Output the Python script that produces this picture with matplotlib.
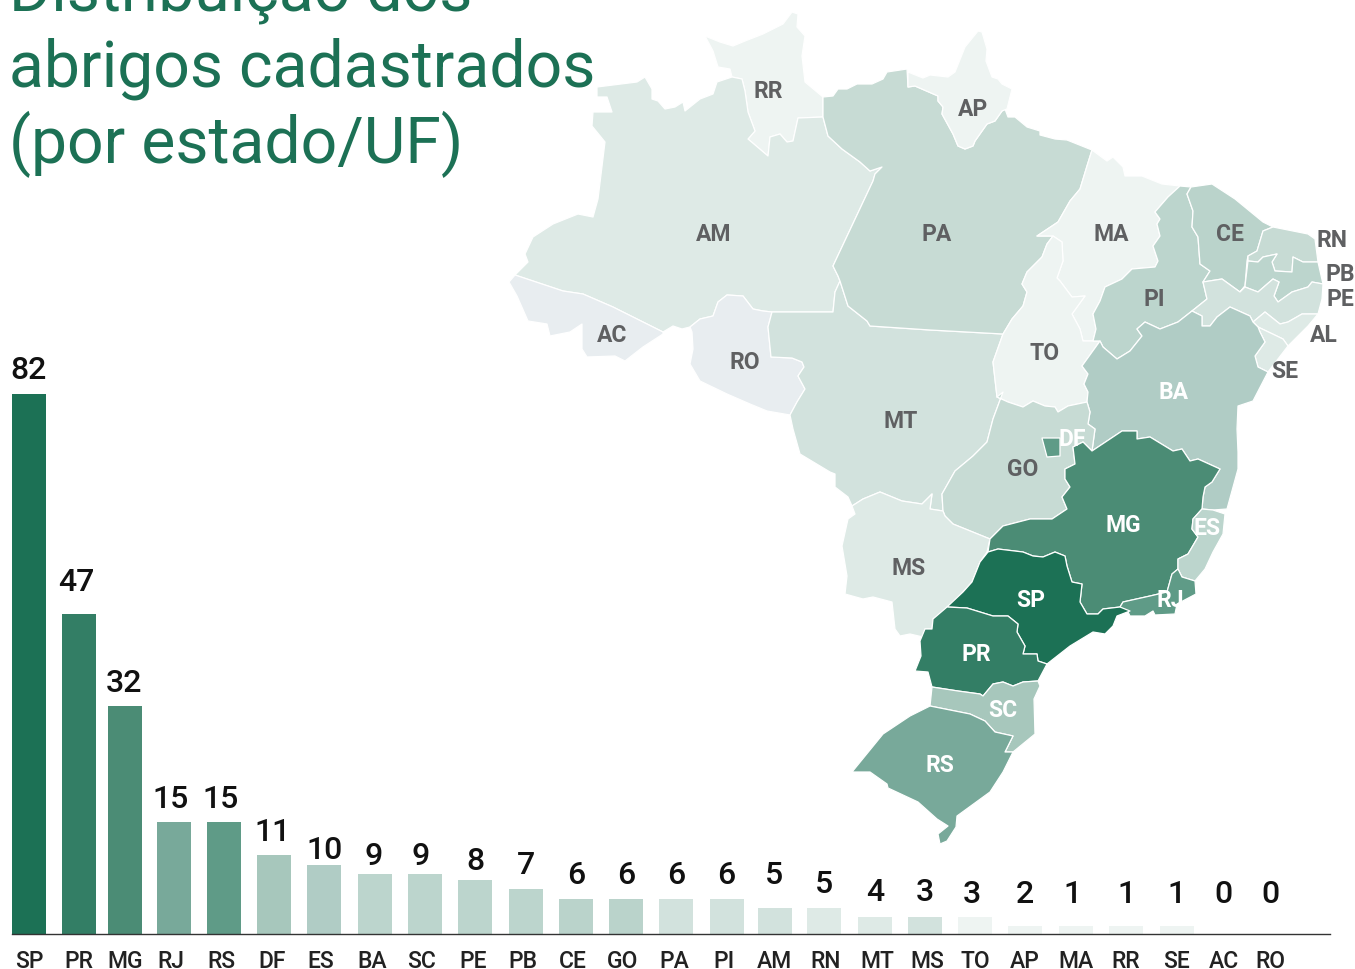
import matplotlib.pyplot as plt
from matplotlib.patches import Polygon

plt.rcParams['font.family'] = ['Roboto', 'DejaVu Sans']

GREEN = '#1c7155'
GREY = '#5f6062'

# bar chart
ufs = ['SP', 'PR', 'MG', 'RJ', 'RS', 'DF', 'ES', 'BA', 'SC', 'PE', 'PB', 'CE', 'GO',
       'PA', 'PI', 'AM', 'RN', 'MT', 'MS', 'TO', 'AP', 'MA', 'RR', 'SE', 'AC', 'RO']
values = [82, 47, 32, 15, 15, 11, 10, 9, 9, 8, 7, 6, 6, 6, 6, 5, 5, 4, 3, 3, 2, 1, 1, 1, 0, 0]
# the original bars are not quite proportional, so heights are read off the picture
bar_heights = [540, 320, 228, 112, 112, 79, 69, 60, 60, 54, 45, 35, 35, 35, 35, 26, 26,
               17, 17, 17, 8, 8, 8, 8, 0, 0]
bar_x = [29, 79, 125, 174, 224, 274, 324, 375, 425, 475, 526, 576, 626, 676, 727, 775, 824,
         875, 925, 975, 1025, 1076, 1126, 1177, 1224, 1270]
bar_colors = ['#1c7155', '#337e65', '#4b8c75', '#78a99a', '#5f9b87', '#a7c7bc', '#b0ccc5',
              '#bcd5cd', '#bcd5cd', '#bcd5cd', '#bcd5cd', '#bad3cb', '#bad3cb', '#d2e2dd',
              '#d2e2dd', '#d2e2dd', '#deeae6', '#deeae6', '#d2e2dd', '#eef4f2', '#eef4f2',
              '#eef4f2', '#eef4f2', '#eef4f2', '#ffffff', '#ffffff']
value_x = [29, 76, 124, 171, 221, 273, 325, 374, 421, 475, 526, 576, 626, 676, 726, 774, 824,
           875, 925, 972, 1025, 1072, 1126, 1176, 1223, 1270]
value_y = [567, 355, 254, 138, 138, 105, 87, 81, 81, 76, 72, 62, 62, 62, 62, 62, 53,
           45, 45, 43, 43, 43, 43, 43, 43, 43]
tick_x = [29, 79, 125, 171, 221, 272, 321, 372, 422, 473, 523, 573, 623, 674, 724, 774, 826,
          877, 927, 975, 1025, 1076, 1126, 1177, 1224, 1270]

# map outlines
states = {
    'RR': [(705, 37), (720, 43), (733, 47), (745, 42), (763, 35), (783, 25), (792, 13), (798, 15),
           (797, 28), (805, 37), (802, 57), (805, 83), (823, 98), (823, 118), (798, 119), (793, 142),
           (787, 143), (780, 135), (770, 138), (768, 157), (748, 140), (755, 132), (748, 113),
           (745, 92), (742, 80), (732, 78), (730, 70), (718, 68), (713, 52)],
    'AM': [(597, 88), (637, 83), (645, 78), (652, 90), (652, 100), (658, 102), (665, 110), (675, 108),
           (683, 103), (685, 112), (700, 100), (713, 95), (717, 83), (732, 78), (742, 80), (745, 92),
           (748, 113), (755, 132), (748, 140), (768, 157),
           (770, 138), (780, 135), (787, 143), (793, 142), (798, 119), (823, 118), (828, 137),
           (842, 150), (860, 163), (870, 172), (882, 168), (875, 175), (873, 182), (833, 267),
           (838, 277), (840, 282), (835, 293), (833, 313), (772, 313), (763, 312), (753, 310),
           (743, 297), (727, 296), (718, 303), (713, 317), (700, 320), (690, 328), (682, 330),
           (673, 327), (663, 333), (613, 308), (583, 295), (563, 292), (515, 276), (528, 263),
           (525, 255), (533, 238), (553, 225), (578, 215), (593, 218), (598, 200), (605, 143),
           (592, 127), (593, 113), (612, 113), (607, 98), (597, 98)],
    'AC': [(515, 276), (563, 292), (583, 295), (613, 308), (663, 333), (663, 335), (643, 348),
           (625, 362), (615, 357), (587, 358), (582, 350), (582, 325), (570, 333), (550, 337),
           (547, 325), (528, 322), (517, 297), (509, 283)],
    'RO': [(772, 313), (763, 312), (753, 310), (743, 297), (727, 296), (718, 303), (713, 317),
           (700, 320), (690, 328), (692, 333), (693, 350), (690, 365), (700, 382), (727, 395),
           (750, 405), (767, 412), (790, 416), (797, 403), (805, 390), (798, 377), (804, 368),
           (802, 363), (792, 359), (771, 358), (768, 328)],
    'MT': [(772, 313), (833, 313), (835, 293), (840, 282), (848, 307), (867, 322), (870, 327),
           (930, 331), (1003, 335), (993, 363), (997, 398), (1003, 393), (993, 420), (987, 443),
           (973, 457), (955, 472), (942, 495), (943, 512), (930, 510), (932, 495), (922, 505),
           (902, 502), (880, 493), (863, 500), (852, 507), (848, 498), (835, 488), (835, 475),
           (830, 473), (800, 455), (793, 430), (790, 416), (797, 403), (805, 390), (798, 377),
           (804, 368), (802, 363), (792, 359), (771, 358), (768, 328)],
    'PA': [(823, 98), (833, 97), (838, 90), (847, 90), (857, 85), (872, 85), (883, 80), (887, 73),
           (907, 70), (908, 88), (915, 87), (938, 97), (938, 102), (943, 108), (942, 115), (953, 135),
           (958, 147), (965, 150), (973, 147), (975, 142), (987, 125), (995, 122), (1002, 112),
           (1005, 110), (1008, 118), (1015, 118), (1027, 128), (1040, 132), (1040, 136), (1055, 140),
           (1067, 141), (1092, 151), (1087, 167), (1080, 190), (1070, 202), (1058, 223),
           (1037, 237), (1053, 237), (1047, 245), (1042, 258), (1027, 273), (1022, 285), (1027, 293),
           (1023, 307), (1012, 320), (1003, 335), (930, 331), (870, 327), (867, 322), (848, 307),
           (840, 282), (838, 277), (833, 267), (873, 182), (875, 175), (882, 168), (870, 172),
           (860, 163), (842, 150), (828, 137), (823, 118)],
    'AP': [(908, 73), (923, 79), (930, 76), (948, 78), (955, 73), (965, 48), (978, 32), (982, 33),
           (987, 50), (986, 62), (992, 78), (998, 80), (1002, 85), (1012, 90), (1007, 110), (1002, 112),
           (995, 122), (987, 125), (975, 142), (973, 147), (965, 150), (958, 147), (953, 135),
           (942, 115), (943, 108), (938, 102), (938, 97), (915, 87), (908, 88)],
    'MA': [(1092, 151), (1107, 162), (1113, 158), (1123, 168), (1125, 177), (1142, 177), (1162, 185),
           (1180, 187), (1168, 198), (1155, 213), (1160, 220), (1157, 225), (1160, 237), (1153, 247),
           (1158, 262), (1155, 268), (1132, 270), (1122, 280), (1105, 288), (1100, 302), (1093, 315),
           (1096, 330), (1093, 342), (1083, 342), (1080, 330), (1072, 315), (1085, 297), (1072, 298),
           (1060, 282), (1057, 279), (1063, 262), (1062, 243), (1053, 237), (1037, 237), (1058, 223),
           (1070, 202), (1080, 190), (1087, 167)],
    'TO': [(1053, 237), (1062, 243), (1063, 262), (1057, 279), (1060, 282), (1072, 298), (1085, 297),
           (1072, 315), (1080, 330), (1083, 342), (1100, 342), (1082, 367), (1088, 375), (1084, 385),
           (1088, 393), (1087, 403), (1068, 407), (1058, 413), (1055, 408), (1045, 407), (1033, 402),
           (1023, 408), (1008, 403), (997, 398), (993, 363), (1003, 335), (1012, 320), (1023, 307),
           (1027, 293), (1022, 285), (1027, 273), (1042, 258), (1047, 245)],
    'PI': [(1180, 187), (1191, 188), (1187, 195), (1193, 212), (1192, 228), (1198, 238), (1200, 265),
           (1210, 272), (1203, 283), (1207, 300), (1192, 312), (1178, 323), (1160, 330), (1145, 323),
           (1137, 330), (1142, 337), (1130, 352), (1117, 360), (1103, 348), (1100, 342), (1093, 342),
           (1096, 330), (1093, 315), (1100, 302), (1105, 288), (1122, 280), (1132, 270), (1155, 268),
           (1158, 262), (1153, 247), (1160, 237), (1157, 225), (1160, 220), (1155, 213), (1168, 198)],
    'CE': [(1191, 188), (1212, 185), (1235, 200), (1263, 223), (1273, 228), (1263, 232), (1257, 252),
           (1248, 257), (1247, 262), (1245, 287), (1240, 293), (1222, 280), (1203, 283), (1210, 272),
           (1200, 265), (1198, 238), (1192, 228), (1193, 212), (1187, 195)],
    'RN': [(1273, 228), (1308, 235), (1315, 240), (1318, 263), (1303, 263), (1293, 258), (1292, 273),
           (1275, 272), (1272, 263), (1277, 255), (1263, 258), (1258, 263), (1248, 262), (1248, 257),
           (1257, 252), (1263, 232)],
    'PB': [(1248, 262), (1258, 263), (1263, 258), (1277, 255), (1272, 263), (1275, 272), (1292, 273),
           (1293, 258), (1303, 263), (1318, 263), (1323, 285), (1312, 283), (1308, 288), (1292, 293),
           (1278, 303), (1274, 297), (1279, 283), (1273, 280), (1258, 293), (1245, 288), (1240, 293),
           (1245, 287)],
    'PE': [(1203, 283), (1222, 280), (1240, 293), (1245, 288), (1258, 293), (1273, 280), (1279, 283),
           (1274, 297), (1278, 303), (1292, 293), (1308, 288), (1312, 283), (1323, 285), (1322, 300),
           (1318, 315), (1302, 315), (1288, 323), (1280, 325), (1265, 313), (1253, 323), (1250, 317),
           (1230, 308), (1217, 318), (1210, 327), (1202, 327), (1202, 317), (1192, 312), (1207, 300)],
    'AL': [(1253, 323), (1265, 313), (1280, 325), (1288, 323), (1302, 315), (1318, 315), (1308, 327),
           (1288, 347), (1283, 340), (1258, 328)],
    'SE': [(1258, 328), (1283, 340), (1288, 347), (1268, 373), (1258, 368), (1255, 357), (1265, 343),
           (1260, 333)],
    'BA': [(1100, 342), (1103, 348), (1117, 360), (1130, 352), (1142, 337), (1137, 330), (1145, 323),
           (1160, 330), (1178, 323), (1192, 312), (1202, 317), (1202, 327), (1210, 327), (1217, 318),
           (1230, 308), (1250, 317), (1253, 323), (1258, 328), (1260, 333), (1265, 343), (1255, 357),
           (1258, 368), (1268, 373), (1253, 402), (1238, 407), (1237, 430), (1238, 453), (1238, 470),
           (1227, 510), (1213, 511), (1202, 510), (1203, 498), (1205, 488), (1212, 483), (1220, 470),
           (1198, 460), (1190, 462), (1182, 450), (1173, 452), (1150, 438), (1137, 440), (1137, 432),
           (1122, 432), (1092, 452), (1095, 430), (1088, 425), (1090, 413), (1087, 403), (1088, 393),
           (1084, 385), (1088, 375), (1082, 367)],
    'GO': [(997, 398), (1008, 403), (1023, 408), (1033, 402), (1045, 407), (1055, 408), (1058, 413),
           (1068, 407), (1087, 403), (1090, 413), (1088, 425), (1095, 430), (1092, 452), (1083, 443),
           (1073, 448), (1075, 465), (1065, 470), (1065, 480), (1070, 488), (1062, 498), (1067, 510),
           (1052, 520), (1030, 520), (1003, 527), (990, 540), (953, 525), (945, 517), (943, 512),
           (942, 495), (955, 472), (973, 457), (987, 443), (993, 420), (1003, 393)],
    'MS': [(852, 507), (863, 500), (880, 493), (902, 502), (922, 505), (932, 495), (930, 510),
           (943, 512), (945, 517), (953, 525), (990, 540), (987, 553), (980, 563), (972, 583),
           (963, 593), (950, 607), (933, 620), (932, 630), (925, 630), (923, 638), (910, 635),
           (900, 637), (895, 630), (892, 603), (873, 598), (863, 600), (845, 595), (847, 577),
           (842, 547), (848, 520), (855, 515)],
    'MG': [(1092, 452), (1122, 432), (1137, 432), (1137, 440), (1150, 438), (1173, 452), (1182, 450),
           (1190, 462), (1198, 460), (1220, 470), (1212, 483), (1205, 488), (1203, 498), (1202, 510),
           (1193, 520), (1192, 530), (1198, 538), (1188, 555), (1178, 560), (1178, 570), (1172, 575),
           (1167, 593), (1150, 597), (1123, 603), (1120, 608), (1103, 610), (1098, 615), (1087, 615),
           (1080, 603), (1082, 585), (1072, 583), (1067, 567), (1065, 557), (1055, 553), (1043, 558),
           (1033, 557), (1023, 553), (998, 550), (988, 553), (990, 540), (1003, 527), (1030, 520),
           (1052, 520), (1067, 510), (1062, 498), (1070, 488), (1065, 480), (1065, 470), (1075, 465),
           (1073, 448), (1083, 443)],
    'ES': [(1202, 510), (1213, 511), (1225, 515), (1223, 535), (1213, 553), (1205, 570), (1195, 582),
           (1182, 578), (1178, 570), (1178, 560), (1188, 555), (1198, 538), (1192, 530), (1193, 520)],
    'RJ': [(1178, 570), (1182, 578), (1195, 582), (1196, 595), (1177, 605), (1175, 615), (1155, 616),
           (1153, 612), (1145, 617), (1130, 617), (1128, 613), (1120, 608), (1123, 603), (1150, 597),
           (1167, 593), (1172, 575)],
    'SP': [(988, 553), (998, 550), (1023, 553), (1033, 557), (1043, 558), (1055, 553), (1065, 557),
           (1067, 567), (1072, 583), (1082, 585), (1080, 603), (1087, 615), (1098, 615), (1103, 610),
           (1120, 608), (1130, 612), (1117, 617), (1113, 627), (1105, 635), (1093, 633), (1070, 647),
           (1047, 665), (1038, 662), (1037, 655), (1023, 655), (1025, 647), (1017, 633), (1018, 625),
           (1008, 617), (993, 617), (967, 609), (947, 608), (963, 593), (972, 583), (980, 563)],
    'PR': [(947, 608), (967, 609), (993, 617), (1008, 617), (1018, 625), (1017, 633), (1025, 647),
           (1023, 655), (1037, 655), (1038, 662), (1047, 665), (1038, 682), (1023, 683), (1013, 687),
           (1003, 683), (993, 685), (983, 697), (980, 695), (958, 692), (932, 688), (928, 673),
           (915, 672), (921, 657), (920, 642), (925, 630), (932, 630), (933, 620)],
    'SC': [(932, 688), (958, 692), (980, 695), (983, 697), (993, 685), (1003, 683), (1013, 687),
           (1023, 683), (1038, 682), (1040, 687), (1034, 700), (1035, 735), (1013, 753), (1005, 753),
           (1013, 737), (995, 733), (985, 722), (970, 715), (930, 707)],
    'RS': [(930, 707), (970, 715), (985, 722), (995, 733), (1013, 737), (1005, 753), (1013, 753),
           (1003, 773), (990, 793), (957, 817), (956, 828), (947, 842), (940, 845), (938, 835),
           (948, 827), (937, 820), (918, 803), (888, 789), (887, 785), (870, 773), (852, 773),
           (883, 735), (910, 717)],
    'DF': [(1042, 439), (1060, 439), (1060, 457), (1047, 458)],
}
state_colors = {'RR': '#eef4f2', 'AM': '#deeae6', 'AC': '#e8edf0', 'RO': '#e8edf0', 'MT': '#d2e2dd',
                'PA': '#c7dbd4', 'AP': '#eef4f2', 'MA': '#eef4f2', 'TO': '#eef4f2', 'PI': '#bcd5cd',
                'CE': '#bad3cb', 'RN': '#c7dbd4', 'PB': '#bcd5cd', 'PE': '#d2e2dd', 'AL': '#deeae6',
                'SE': '#deeae6', 'BA': '#b0ccc5', 'GO': '#c7dbd4', 'MS': '#deeae6', 'MG': '#4b8c75',
                'ES': '#bcd5cd', 'RJ': '#5f9b87', 'SP': '#1c7155', 'PR': '#337e65', 'SC': '#a7c7bc',
                'RS': '#78a99a', 'DF': '#5f9b87'}
state_labels = {'AM': (714, 232), 'PA': (937, 232), 'MA': (1111, 232), 'CE': (1230, 232),
                'RN': (1332, 238), 'PB': (1340, 272), 'PE': (1340, 297), 'AL': (1324, 333),
                'SE': (1285, 369), 'PI': (1154, 297), 'TO': (1045, 351), 'BA': (1174, 390),
                'RR': (768, 89), 'AP': (973, 107), 'AC': (612, 333), 'RO': (745, 360),
                'MT': (901, 419), 'GO': (1023, 467), 'DF': (1072, 437), 'MG': (1123, 523),
                'ES': (1207, 526), 'MS': (909, 566), 'SP': (1031, 598), 'RJ': (1170, 598),
                'PR': (976, 652), 'SC': (1003, 708), 'RS': (940, 763)}
white_labels = ['BA', 'DF', 'MG', 'ES', 'SP', 'RJ', 'PR', 'SC', 'RS']

title_lines = ['Distribuição dos', 'abrigos cadastrados', '(por estado/UF)']
title_baselines = [10, 87, 163]

fig = plt.figure(figsize=(13.55, 9.7), dpi=100)

# map axes in picture coordinates, y pointing down
ax = fig.add_axes([0, 0, 1, 1])
ax.set_xlim(0, 1355)
ax.set_ylim(970, 0)
ax.axis('off')

for uf, pts in states.items():
    ax.add_patch(Polygon(pts, closed=True, facecolor=state_colors[uf], edgecolor='white',
                         lw=0.9, joinstyle='round'))

for uf, (x, y) in state_labels.items():
    c = 'white' if uf in white_labels else GREY
    ax.text(x, y, uf, color=c, fontsize=16.5, fontweight='bold', ha='center', va='center_baseline')

for line, y in zip(title_lines, title_baselines):
    ax.text(9, y, line, color=GREEN, fontsize=46.3, ha='left', va='baseline')

# bars, same pixel scale, zero at the base line
ax2 = fig.add_axes([0, 0, 1, 1])
ax2.set_xlim(0, 1355)
ax2.set_ylim(-35.5, 934.5)
ax2.axis('off')
ax2.patch.set_alpha(0)

ax2.bar(bar_x, bar_heights, width=34, color=bar_colors)
ax2.plot([12, 1330], [0, 0], color='#333333', lw=1)

for x, y, v in zip(value_x, value_y, values):
    ax2.text(x, y, str(v), fontsize=23, fontweight='medium', color='#111111',
             ha='center', va='center_baseline')
for x, uf in zip(tick_x, ufs):
    ax2.text(x, -24.5, uf, fontsize=16.5, fontweight='medium', color='#222222',
             ha='center', va='center_baseline')

plt.savefig('out.png', dpi=100)
